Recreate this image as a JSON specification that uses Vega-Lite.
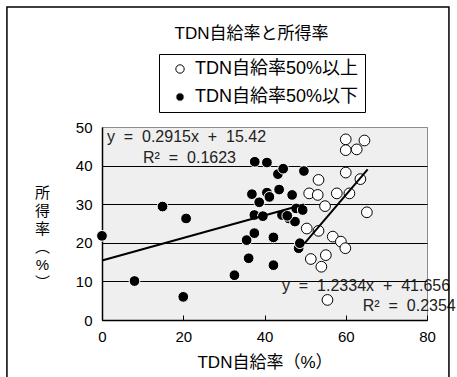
{
  "$schema": "https://vega.github.io/schema/vega-lite/v6.json",
  "width": 325,
  "height": 193,
  "autosize": {"type": "none"},
  "padding": {"left": 102, "top": 127, "right": 30, "bottom": 57},
  "background": "white",
  "config": {
    "font": "Liberation Sans, 'Noto Sans CJK JP', sans-serif",
    "view": {"fill": "#efefef", "stroke": "#8c8c8c", "strokeWidth": 1}
  },
  "title": {
    "text": "TDN自給率と所得率",
    "fontSize": 17,
    "fontWeight": "normal",
    "color": "black",
    "anchor": "middle",
    "dx": -13,
    "offset": -37
  },
  "datasets": {
    "pts": [
      {"group": "TDN自給率50%以下", "x": 0, "y": 21.8},
      {"group": "TDN自給率50%以下", "x": 8.0, "y": 10.1},
      {"group": "TDN自給率50%以下", "x": 14.9, "y": 29.4},
      {"group": "TDN自給率50%以下", "x": 20.7, "y": 26.3},
      {"group": "TDN自給率50%以下", "x": 20.0, "y": 6.0},
      {"group": "TDN自給率50%以下", "x": 32.6, "y": 11.6},
      {"group": "TDN自給率50%以下", "x": 35.6, "y": 20.7},
      {"group": "TDN自給率50%以下", "x": 36.1, "y": 16.0},
      {"group": "TDN自給率50%以下", "x": 37.5, "y": 22.5},
      {"group": "TDN自給率50%以下", "x": 37.5, "y": 27.2},
      {"group": "TDN自給率50%以下", "x": 36.9, "y": 32.6},
      {"group": "TDN自給率50%以下", "x": 38.7, "y": 30.5},
      {"group": "TDN自給率50%以下", "x": 37.6, "y": 41.0},
      {"group": "TDN自給率50%以下", "x": 40.6, "y": 40.8},
      {"group": "TDN自給率50%以下", "x": 43.3, "y": 37.8},
      {"group": "TDN自給率50%以下", "x": 44.6, "y": 39.2},
      {"group": "TDN自給率50%以下", "x": 40.6, "y": 33.0},
      {"group": "TDN自給率50%以下", "x": 41.2, "y": 31.9},
      {"group": "TDN自給率50%以下", "x": 43.6, "y": 33.8},
      {"group": "TDN自給率50%以下", "x": 39.6, "y": 26.9},
      {"group": "TDN自給率50%以下", "x": 42.2, "y": 21.4},
      {"group": "TDN自給率50%以下", "x": 42.2, "y": 14.2},
      {"group": "TDN自給率50%以下", "x": 44.3, "y": 27.2},
      {"group": "TDN自給率50%以下", "x": 46.8, "y": 32.4},
      {"group": "TDN自給率50%以下", "x": 46.0, "y": 26.3},
      {"group": "TDN自給率50%以下", "x": 47.5, "y": 25.5},
      {"group": "TDN自給率50%以下", "x": 47.8, "y": 28.9},
      {"group": "TDN自給率50%以下", "x": 49.4, "y": 28.5},
      {"group": "TDN自給率50%以下", "x": 49.7, "y": 38.6},
      {"group": "TDN自給率50%以下", "x": 48.4, "y": 18.6},
      {"group": "TDN自給率50%以下", "x": 48.7, "y": 19.9},
      {"group": "TDN自給率50%以下", "x": 45.6, "y": 27.0},
      {"group": "TDN自給率50%以上", "x": 60.0, "y": 46.8},
      {"group": "TDN自給率50%以上", "x": 64.6, "y": 46.5},
      {"group": "TDN自給率50%以上", "x": 60.0, "y": 44.0},
      {"group": "TDN自給率50%以上", "x": 62.7, "y": 44.2},
      {"group": "TDN自給率50%以上", "x": 60.0, "y": 38.2},
      {"group": "TDN自給率50%以上", "x": 63.6, "y": 36.5},
      {"group": "TDN自給率50%以上", "x": 53.3, "y": 36.3},
      {"group": "TDN自給率50%以上", "x": 51.0, "y": 32.8},
      {"group": "TDN自給率50%以上", "x": 53.1, "y": 32.4},
      {"group": "TDN自給率50%以上", "x": 57.8, "y": 32.8},
      {"group": "TDN自給率50%以上", "x": 60.9, "y": 32.8},
      {"group": "TDN自給率50%以上", "x": 54.9, "y": 29.5},
      {"group": "TDN自給率50%以上", "x": 65.2, "y": 27.9},
      {"group": "TDN自給率50%以上", "x": 50.4, "y": 23.7},
      {"group": "TDN自給率50%以上", "x": 53.3, "y": 23.1},
      {"group": "TDN自給率50%以上", "x": 56.8, "y": 21.6},
      {"group": "TDN自給率50%以上", "x": 58.8, "y": 20.3},
      {"group": "TDN自給率50%以上", "x": 59.9, "y": 18.6},
      {"group": "TDN自給率50%以上", "x": 51.4, "y": 15.8},
      {"group": "TDN自給率50%以上", "x": 55.1, "y": 16.8},
      {"group": "TDN自給率50%以上", "x": 54.0, "y": 13.8},
      {"group": "TDN自給率50%以上", "x": 55.5, "y": 5.2}
    ],
    "fits": [
      {"line": "below", "x": 0, "y": 15.42},
      {"line": "below", "x": 49.7, "y": 29.91},
      {"line": "above", "x": 49.8, "y": 19.77},
      {"line": "above", "x": 65.4, "y": 39.01}
    ],
    "labels": [
      {"text": "y\u00a0\u00a0=\u00a0\u00a00.2915x\u00a0\u00a0+\u00a0\u00a015.42", "x": 1.2, "y": 47.3},
      {"text": "R²\u00a0\u00a0=\u00a0\u00a00.1623", "x": 10.1, "y": 41.9},
      {"text": "y\u00a0\u00a0=\u00a0\u00a01.2334x\u00a0\u00a0+\u00a0\u00a041.656", "x": 44.3, "y": 8.8},
      {"text": "R²\u00a0\u00a0=\u00a0\u00a00.2354", "x": 64.2, "y": 3.5}
    ]
  },
  "layer": [
    {
      "data": {"name": "pts"},
      "mark": {"type": "point", "shape": "circle", "filled": true, "size": 115, "strokeWidth": 1, "opacity": 1},
      "encoding": {
        "x": {
          "field": "x", "type": "quantitative",
          "scale": {"domain": [0, 80], "nice": false},
          "axis": {
            "values": [0, 20, 40, 60, 80],
            "grid": false,
            "domainColor": "black", "domainWidth": 1.5,
            "tickColor": "black", "tickSize": -5, "tickWidth": 1,
            "labelFontSize": 15, "labelColor": "black", "labelPadding": 14, "labelFlush": false, "labelOverlap": false,
            "title": "TDN自給率（%）",
            "titleFontSize": 17, "titleFontWeight": "normal", "titleColor": "black", "titlePadding": 10
          }
        },
        "y": {
          "field": "y", "type": "quantitative",
          "scale": {"domain": [0, 50], "nice": false},
          "axis": {
            "values": [0, 10, 20, 30, 40, 50],
            "tickCount": 6,
            "grid": true,
            "gridColor": {"expr": "datum.value === 50 ? '#8c8c8c' : 'black'"},
            "gridWidth": 1,
            "domainColor": "black", "domainWidth": 1.5,
            "ticks": false,
            "labelFontSize": 15, "labelColor": "black", "labelPadding": 10, "labelOverlap": false, "labelBound": false,
            "title": ["所", "得", "率", "︵", "%", "︶"],
            "titleAngle": 0, "titleX": -60, "titleY": 58,
            "titleAlign": "center", "titleBaseline": "top",
            "titleFontSize": 15, "titleLineHeight": 18, "titleFontWeight": "normal", "titleColor": "black"
          }
        },
        "fill": {
          "field": "group", "type": "nominal",
          "scale": {"domain": ["TDN自給率50%以上", "TDN自給率50%以下"], "range": ["white", "black"]},
          "legend": {
            "orient": "none", "legendX": 57, "legendY": -73,
            "title": null, "strokeColor": "black", "fillColor": "white", "padding": 6,
            "labelFontSize": 18, "labelColor": "black", "labelOffset": 6, "labelLimit": 400,
            "symbolSize": 70, "symbolStrokeWidth": 1, "rowPadding": 10, "symbolOffset": 6
          }
        },
        "stroke": {
          "field": "group", "type": "nominal",
          "scale": {"domain": ["TDN自給率50%以上", "TDN自給率50%以下"], "range": ["black", "white"]},
          "legend": {
            "orient": "none", "legendX": 57, "legendY": -73,
            "title": null, "strokeColor": "black", "fillColor": "white", "padding": 6,
            "labelFontSize": 18, "labelColor": "black", "labelOffset": 6, "labelLimit": 400,
            "symbolSize": 70, "symbolStrokeWidth": 1, "rowPadding": 10, "symbolOffset": 6
          }
        }
      }
    },
    {
      "data": {"name": "fits"},
      "mark": {"type": "line", "color": "black", "strokeWidth": 2},
      "encoding": {
        "x": {"field": "x", "type": "quantitative"},
        "y": {"field": "y", "type": "quantitative"},
        "detail": {"field": "line"}
      }
    },
    {
      "data": {"name": "labels"},
      "mark": {"type": "text", "align": "left", "baseline": "middle", "fontSize": 16, "color": "#222", "clip": false},
      "encoding": {
        "x": {"field": "x", "type": "quantitative"},
        "y": {"field": "y", "type": "quantitative"},
        "text": {"field": "text"}
      }
    },
    {
      "data": {"values": [{}]},
      "mark": {"type": "rect", "fill": null, "fillOpacity": 0, "stroke": "black", "strokeWidth": 1.5, "clip": false},
      "encoding": {
        "x": {"datum": -23.4, "type": "quantitative"},
        "x2": {"datum": 85.4},
        "y": {"datum": 81.1, "type": "quantitative"},
        "y2": {"datum": -16}
      }
    }
  ]
}
